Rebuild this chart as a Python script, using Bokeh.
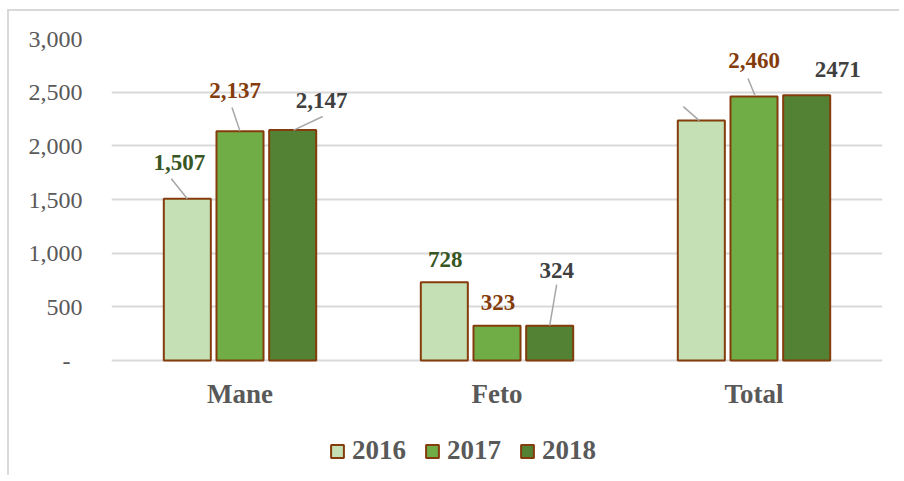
from bokeh.plotting import figure
from bokeh.models import Range1d, FixedTicker, Legend, LegendItem, ColumnDataSource, NumeralTickFormatter
from bokeh.core.properties import value
from bokeh.embed import file_html
from bokeh.resources import INLINE

# ---------------- data ----------------
categories = ["Mane", "Feto", "Total"]
years = ["2016", "2017", "2018"]
v2016 = [1507, 728, 2235]
v2017 = [2137, 323, 2460]
v2018 = [2147, 324, 2471]
labels2016 = ["1,507", "728", ""]
labels2017 = ["2,137", "323", "2,460"]
labels2018 = ["2,147", "324", "2471"]
y_ticks = [0, 500, 1000, 1500, 2000, 2500, 3000]

# ---------------- styles ----------------
FONT = "Liberation Serif"
W, H = 892, 466
FRAME_W = 771
ML, MT, MB = 102, 27, 3
FRAME_H = H - MT - MB          # whole frame (includes room below zero for labels/legend)
PLOT_H = 322                   # pixels from 0 to YMAX
YMAX = 3000
Y_LOW = -(FRAME_H - PLOT_H) * YMAX / PLOT_H
fill_colors = ["#C5E0B4", "#70AD47", "#548235"]
label_colors = ["#375623", "#843C0C", "#404040"]
outline = "#843C0C"
bar_offsets = [-0.205, 0.0, 0.205]
bar_width = 0.183
# label offsets (px) relative to bar top centre
lab_dx = [[-8, 1, 0], [-5, 1, 0], [29, 7, 31]]
lab_dy = [[-36, -23, 0], [-40.6, -23, -36], [-29.6, -55, -26]]
# leader lines (px) relative to bar top centre: series, cat, (x0,y0,x1,y1)
leaders = [
    (0, 0, (-16, -20, 0, 0)),
    (0, 2, (-18, -14, -2, 0)),
    (1, 0, (-8, -23.6, 0, 0)),
    (1, 2, (-6, -18, 1, -1)),
    (2, 0, (30, -13.6, 1, 0)),
    (2, 1, (7, -41, 0, 0)),
]

p = figure(width=W, height=H, output_backend="svg", toolbar_location=None,
           x_range=Range1d(0, len(categories)), y_range=Range1d(Y_LOW, YMAX),
           min_border_left=ML, min_border_right=W - ML - FRAME_W,
           min_border_top=MT, min_border_bottom=MB)
p.margin = (9, 0, 0, 7)
p.styles = {"border-left": "2px solid #d9d9d9", "border-top": "2px solid #d9d9d9"}
p.outline_line_color = None
p.background_fill_color = "white"
p.border_fill_color = "white"

# axes
p.yaxis.ticker = FixedTicker(ticks=y_ticks)
p.yaxis.formatter = NumeralTickFormatter(format="0,0")
p.yaxis.major_label_overrides = {0: "-\u00a0\u00a0"}
p.yaxis.axis_line_color = None
p.yaxis.major_tick_line_color = None
p.yaxis.minor_tick_line_color = None
p.yaxis.major_label_standoff = 23
p.yaxis.major_label_text_font = FONT
p.yaxis.major_label_text_font_size = "24px"
p.yaxis.major_label_text_color = "#595959"

p.xaxis.fixed_location = 0
p.xaxis.ticker = FixedTicker(ticks=[i + 0.5 for i in range(len(categories))])
p.xaxis.major_label_overrides = {i + 0.5: c for i, c in enumerate(categories)}
p.xaxis.axis_line_color = None
p.xaxis.major_tick_line_color = None
p.xaxis.minor_tick_line_color = None
p.xaxis.major_label_standoff = 12
p.xaxis.major_label_text_font = FONT
p.xaxis.major_label_text_font_size = "27px"
p.xaxis.major_label_text_font_style = "bold"
p.xaxis.major_label_text_color = "#595959"

p.xgrid.grid_line_color = None
p.ygrid.ticker = FixedTicker(ticks=y_ticks)
p.ygrid.grid_line_color = "#d9d9d9"
p.ygrid.grid_line_width = 2

series = [v2016, v2017, v2018]
labels = [labels2016, labels2017, labels2018]
renderers = []
for s, vals in enumerate(series):
    xs = [i + 0.5 + bar_offsets[s] for i in range(len(categories))]
    src = ColumnDataSource(dict(x=xs, top=vals, text=labels[s],
                                dx=lab_dx[s], dy=lab_dy[s]))
    r = p.vbar(x="x", top="top", width=bar_width, bottom=0, source=src,
               fill_color=fill_colors[s], line_color=outline, line_width=2)
    renderers.append(r)
    p.text(x="x", y="top", text="text", x_offset="dx", y_offset="dy", source=src,
           text_font=value(FONT), text_font_size="23px", text_font_style="bold",
           text_color=label_colors[s], text_align="center", text_baseline="middle")

# leader lines
px_x = len(categories) / FRAME_W
px_y = YMAX / PLOT_H
x0s, y0s, x1s, y1s = [], [], [], []
for s, c, (a, b, cc, d) in leaders:
    bx = c + 0.5 + bar_offsets[s]
    by = series[s][c]
    x0s.append(bx + a * px_x); y0s.append(by - b * px_y)
    x1s.append(bx + cc * px_x); y1s.append(by - d * px_y)
p.segment(x0=x0s, y0=y0s, x1=x1s, y1=y1s, line_color="#a6a6a6", line_width=1.5)

legend = Legend(items=[LegendItem(label=y, renderers=[r]) for y, r in zip(years, renderers)],
                orientation="horizontal", location=(218, 8))
legend.glyph_width = 16
legend.glyph_height = 16
legend.label_standoff = 7
legend.spacing = 18
legend.padding = 0
legend.margin = 0
legend.border_line_color = None
legend.background_fill_alpha = 0
legend.label_text_font = FONT
legend.label_text_font_size = "27px"
legend.label_text_font_style = "bold"
legend.label_text_color = "#595959"
p.add_layout(legend, "center")

open("out.html", "w").write(file_html(p, INLINE))
